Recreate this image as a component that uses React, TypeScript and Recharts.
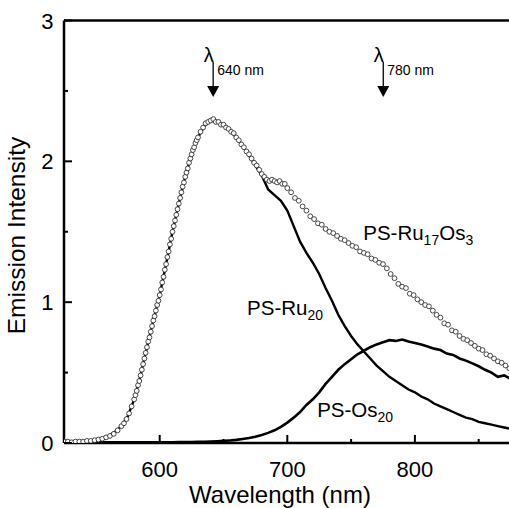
import React from 'react';
import {
  ComposedChart,
  Line,
  Scatter,
  XAxis,
  YAxis,
  ReferenceLine,
  ReferenceDot,
  Label,
} from 'recharts';

// PS-Ru17Os3 (open circles)
const ruOsNm = [
  525, 528, 531, 534, 537, 540, 543, 546, 549, 552, 555, 558, 561, 564, 567, 570,
  572, 574, 576, 578, 580,
  581, 582, 583, 584, 585, 586, 587, 588, 589, 590, 591, 592, 593, 594, 595, 596, 597, 598, 599, 600,
  601, 602, 603, 604, 605, 606, 607, 608, 609, 610, 611, 612, 613, 614, 615, 616, 617, 618, 619, 620,
  621, 622, 623, 624, 625, 626, 627, 628, 629, 630,
  632, 634, 636, 638, 640, 642, 644, 646, 648, 650, 652, 654, 656, 658, 660, 662, 664, 666, 668, 670,
  672, 674, 676, 678, 680, 682, 684, 686, 688, 690, 692, 694, 696, 698, 700,
  703, 706, 709, 712, 715, 718, 721, 724, 727, 730, 733, 736, 739, 742, 745, 748, 751, 754, 757, 760,
  763, 766, 769, 772, 775, 778, 781, 784, 787, 790, 793, 796, 799, 802, 805, 808, 811, 814, 817, 820,
  823, 826, 829, 832, 835, 838, 841, 844, 847, 850, 853, 856, 859, 862, 865, 868, 871, 874,
];
const ruOsVal = [
  0.01, 0.01, 0.005, 0.01, 0.01, 0.01, 0.015, 0.015, 0.02, 0.025, 0.03, 0.04, 0.05, 0.065, 0.09, 0.12,
  0.14, 0.17, 0.21, 0.26, 0.31,
  0.34, 0.37, 0.41, 0.44, 0.48, 0.52, 0.56, 0.6, 0.64, 0.68, 0.72, 0.75, 0.79, 0.83, 0.87, 0.9, 0.94, 0.98, 1.01, 1.05,
  1.09, 1.14, 1.18, 1.23, 1.27, 1.32, 1.36, 1.41, 1.45, 1.5, 1.54, 1.58, 1.62, 1.66, 1.7, 1.74, 1.78, 1.82, 1.85, 1.89,
  1.92, 1.95, 1.99, 2.02, 2.05, 2.08, 2.1, 2.13, 2.15, 2.17,
  2.21, 2.24, 2.27, 2.28, 2.29, 2.3, 2.28, 2.28, 2.26, 2.26, 2.24, 2.23, 2.21, 2.2, 2.17, 2.15, 2.12, 2.1, 2.07, 2.05,
  2.02, 1.99, 1.97, 1.94, 1.91, 1.89, 1.87, 1.86, 1.87, 1.86, 1.85, 1.86, 1.84, 1.84, 1.81,
  1.78, 1.74, 1.72, 1.68, 1.65, 1.61, 1.59, 1.56, 1.55, 1.52, 1.5, 1.49, 1.47, 1.45, 1.44, 1.42, 1.4, 1.39, 1.36, 1.35,
  1.34, 1.31, 1.3, 1.28, 1.27, 1.24, 1.2, 1.17, 1.13, 1.11, 1.1, 1.06, 1.05, 1.02, 1.0, 0.98, 0.97, 0.94, 0.91, 0.89,
  0.85, 0.84, 0.8, 0.79, 0.76, 0.74, 0.73, 0.71, 0.69, 0.67, 0.66, 0.63, 0.62, 0.6, 0.58, 0.57, 0.55, 0.53,
];

// PS-Ru20 and PS-Os20 (solid lines), 5 nm steps
const lineNm = [
  525, 530, 535, 540, 545, 550, 555, 560, 565, 570, 575, 580, 585, 590, 595, 600, 605, 610, 615, 620,
  625, 630, 635, 640, 645, 650, 655, 660, 665, 670, 675, 680, 685, 690, 695, 700, 705, 710, 715, 720,
  725, 730, 735, 740, 745, 750, 755, 760, 765, 770, 775, 780, 785, 790, 795, 800, 805, 810, 815, 820,
  825, 830, 835, 840, 845, 850, 855, 860, 865, 870, 875,
];
const ru20Val = [
  0.01, 0.01, 0.01, 0.01, 0.01, 0.02, 0.03, 0.05, 0.08, 0.12, 0.19, 0.31, 0.48, 0.68, 0.87, 1.05, 1.27, 1.5, 1.7, 1.89,
  2.05, 2.17, 2.25, 2.29, 2.28, 2.26, 2.22, 2.17, 2.11, 2.04, 1.97, 1.9, 1.8, 1.76, 1.72, 1.65, 1.54, 1.43, 1.35, 1.28,
  1.2, 1.1, 1.01, 0.91, 0.83, 0.76, 0.7, 0.65, 0.6, 0.55, 0.51, 0.47, 0.44, 0.41, 0.38, 0.36, 0.33, 0.31, 0.28, 0.26,
  0.24, 0.22, 0.2, 0.18, 0.17, 0.15, 0.14, 0.13, 0.12, 0.11, 0.1,
];
const os20Val = [
  0.005, 0.005, 0.005, 0.005, 0.005, 0.005, 0.005, 0.005, 0.005, 0.005, 0.005, 0.005, 0.005, 0.005, 0.005, 0.005, 0.005, 0.005, 0.006, 0.006,
  0.007, 0.008, 0.009, 0.01, 0.012, 0.015, 0.018, 0.022, 0.028, 0.035, 0.045, 0.057, 0.072, 0.09, 0.115, 0.145, 0.18, 0.22, 0.27, 0.31,
  0.36, 0.42, 0.47, 0.52, 0.56, 0.595, 0.63, 0.655, 0.68, 0.7, 0.715, 0.73, 0.725, 0.735, 0.72, 0.71, 0.7, 0.685, 0.67, 0.66,
  0.635, 0.625, 0.6, 0.585, 0.565, 0.545, 0.52, 0.5, 0.47, 0.48, 0.455,
];

const xTicks = [600, 650, 700, 750, 800, 850];
const yTicks = [0, 0.5, 1, 1.5, 2, 2.5, 3];

// curve labels: [name, subscript, name, subscript]
const curveLabels = [
  { nm: 759.5, value: 1.44, parts: ['PS-Ru', '17', 'Os', '3'] },
  { nm: 668.5, value: 0.91, parts: ['PS-Ru', '20'] },
  { nm: 723.4, value: 0.185, parts: ['PS-Os', '20'] },
];
const arrowMarks = [
  { nm: 641.9, value: 2.457, text: '640 nm' },
  { nm: 775.2, value: 2.457, text: '780 nm' },
];

const ruOsData = ruOsNm.map((nm, i) => ({ nm, v: ruOsVal[i] }));
const ru20Data = lineNm.map((nm, i) => ({ nm, v: ru20Val[i] }));
const os20Data = lineNm.map((nm, i) => ({ nm, v: os20Val[i] }));

const FONT = "'Liberation Sans', Arial, Helvetica, sans-serif";

const XTick = (props: any) => {
  const { x, y, payload } = props;
  const major = payload.value % 100 === 0;
  return (
    <g>
      <line x1={x} x2={x} y1={y} y2={y - (major ? 8 : 4)} stroke="#000" strokeWidth={2} />
      {major && (
        <text x={x} y={y + 34} textAnchor="middle" fontSize={22} fontFamily={FONT} fill="#000">
          {payload.value}
        </text>
      )}
    </g>
  );
};

const YTick = (props: any) => {
  const { x, y, payload } = props;
  const major = Number.isInteger(payload.value);
  return (
    <g>
      <line x1={x} x2={x + (major ? 8 : 4)} y1={y} y2={y} stroke="#000" strokeWidth={2} />
      {major && (
        <text x={x - 10.5} y={y + 8} textAnchor="end" fontSize={22} fontFamily={FONT} fill="#000">
          {payload.value}
        </text>
      )}
    </g>
  );
};

const CurveLabel = (parts: string[]) => (props: any) => {
  const { cx, cy } = props;
  return (
    <text x={cx} y={cy} fontSize={20.5} fontFamily={FONT} fill="#000">
      {parts.map((p, i) =>
        i % 2 === 0 ? (
          <tspan key={i} fontSize={20.5} dy={i === 0 ? 0 : -5}>
            {p}
          </tspan>
        ) : (
          <tspan key={i} fontSize={14} dy={5}>
            {p}
          </tspan>
        )
      )}
    </text>
  );
};

const ArrowMark = (text: string) => (props: any) => {
  const { cx, cy } = props;
  return (
    <g>
      <line x1={cx} x2={cx} y1={cy - 35} y2={cy - 10} stroke="#000" strokeWidth={1.3} />
      <polygon points={`${cx - 6},${cy - 11} ${cx + 6},${cy - 11} ${cx},${cy}`} fill="#000" />
      <text x={cx - 4.5} y={cy - 35} textAnchor="middle" fontSize={20} fontFamily={FONT} fill="#000">
        λ
      </text>
      <text x={cx + 4} y={cy - 22} fontSize={14} fontFamily={FONT} fill="#000">
        {text}
      </text>
    </g>
  );
};

const App: React.FC = () => {
  return (
    <div style={{ width: 509, height: 508, overflow: 'hidden', background: '#fff' }}>
      <style>{'body { margin: 0; }'}</style>
      <ComposedChart
        width={520}
        height={508}
        margin={{ top: 20.5, right: 9.4, left: 63, bottom: 64 }}
      >
        <XAxis
          dataKey="nm"
          type="number"
          domain={[525, 875]}
          ticks={xTicks}
          interval={0}
          allowDataOverflow
          height={1}
          tickSize={0}
          tickMargin={0}
          tickLine={false}
          tick={<XTick />}
          axisLine={{ stroke: '#000', strokeWidth: 2.5 }}
        >
          <Label
            content={(p: any) => {
              const vb = p.viewBox;
              return (
                <text x={vb.x + 216} y={vb.y + 60} textAnchor="middle" fontSize={24} fontFamily={FONT} fill="#000">
                  Wavelength (nm)
                </text>
              );
            }}
          />
        </XAxis>
        <YAxis
          type="number"
          domain={[0, 3]}
          ticks={yTicks}
          interval={0}
          allowDataOverflow
          width={1}
          tickSize={0}
          tickMargin={0}
          tickLine={false}
          tick={<YTick />}
          axisLine={{ stroke: '#000', strokeWidth: 2.5 }}
        >
          <Label
            content={(p: any) => {
              const vb = p.viewBox;
              const tx = vb.x + vb.width - 39;
              const ty = vb.y + 215;
              return (
                <text
                  x={tx}
                  y={ty}
                  textAnchor="middle"
                  fontSize={24.5}
                  fontFamily={FONT}
                  fill="#000"
                  transform={`rotate(-90, ${tx}, ${ty})`}
                >
                  Emission Intensity
                </text>
              );
            }}
          />
        </YAxis>
        <ReferenceLine y={3} stroke="#000" strokeWidth={2.5} />
        <ReferenceLine x={875} stroke="#000" strokeWidth={2.5} />
        <Line
          data={os20Data}
          dataKey="v"
          type="linear"
          stroke="#000"
          strokeWidth={2.6}
          dot={false}
          isAnimationActive={false}
        />
        <Line
          data={ru20Data}
          dataKey="v"
          type="linear"
          stroke="#000"
          strokeWidth={2.4}
          dot={false}
          isAnimationActive={false}
        />
        <Scatter
          data={ruOsData}
          dataKey="v"
          isAnimationActive={false}
          shape={(p: any) => (
            <circle cx={p.cx} cy={p.cy} r={2.4} fill="#fff" stroke="#333" strokeWidth={0.9} />
          )}
        />
        {curveLabels.map((l) => (
          <ReferenceDot key={l.parts.join('')} x={l.nm} y={l.value} shape={CurveLabel(l.parts)} />
        ))}
        {arrowMarks.map((a) => (
          <ReferenceDot key={a.text} x={a.nm} y={a.value} shape={ArrowMark(a.text)} />
        ))}
      </ComposedChart>
    </div>
  );
};

export default App;
